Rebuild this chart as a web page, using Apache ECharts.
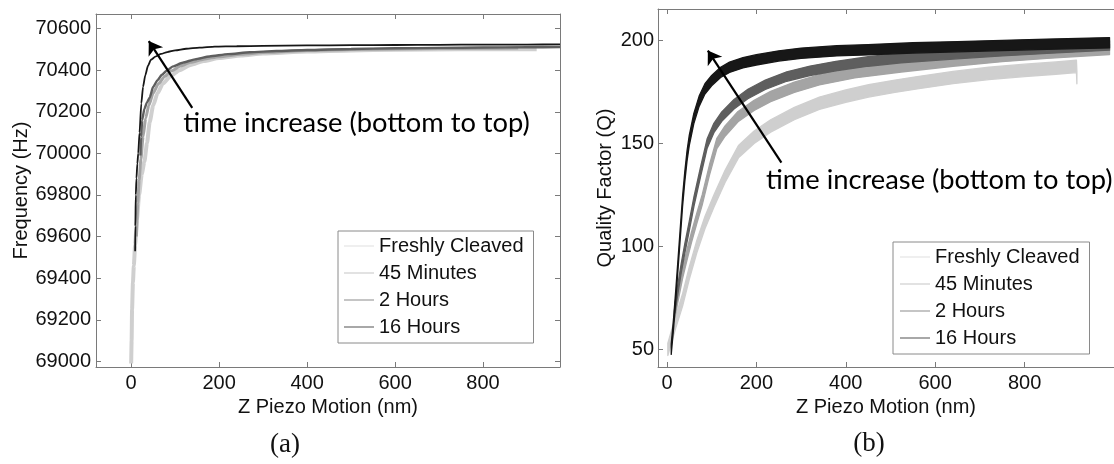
<!DOCTYPE html>
<html>
<head>
<meta charset="utf-8">
<script src="https://cdn.jsdelivr.net/npm/echarts@6/dist/echarts.min.js"></script>
<style>
  html, body { margin: 0; padding: 0; background: #fff; }
  #chart { width: 1114px; height: 464px; }
</style>
</head>
<body>
<div id="chart"></div>
<script>
// ---------- tick values ----------
const X_TICKS = [0, 200, 400, 600, 800];
const FREQ_TICKS = [69000, 69200, 69400, 69600, 69800, 70000, 70200, 70400, 70600];
const Q_TICKS = [50, 100, 150, 200];
const SERIES_NAMES = ['Freshly Cleaved', '45 Minutes', '2 Hours', '16 Hours'];

// ---------- (a) resonance frequency (Hz) vs Z piezo motion (nm) ----------
const freqFreshX = [0, 1, 2, 4, 6, 9, 13, 18, 24, 30, 36, 42, 50, 60, 72, 90, 110, 135, 165, 200, 250, 300, 400, 500, 600, 750, 922];
const freqFreshY = [68990, 69100, 69250, 69380, 69460, 69560, 69680, 69800, 69900, 69960, 70050, 70150, 70230, 70290, 70335, 70372, 70400, 70425, 70444, 70458, 70471, 70480, 70490, 70495, 70498, 70500, 70500];

const freq45mX = [12, 15, 18, 22, 27, 33, 40, 50, 62, 76, 92, 112, 135, 165, 200, 250, 310, 400, 500, 600, 700, 800, 880];
const freq45mY = [69600, 69760, 69870, 69970, 70080, 70170, 70230, 70290, 70335, 70370, 70397, 70420, 70438, 70453, 70465, 70477, 70486, 70494, 70499, 70502, 70504, 70505, 70506];

const freq2hX = [21, 22.5, 25, 30, 36, 42, 50, 60, 70, 80, 95, 117, 145, 178, 220, 270, 330, 400, 500, 600, 700, 800, 900, 975];
const freq2hY = [69990, 70080, 70160, 70215, 70245, 70268, 70320, 70352, 70378, 70396, 70418, 70436, 70452, 70466, 70477, 70486, 70492, 70497, 70502, 70505, 70507, 70509, 70510, 70511];

const freq16hX = [9, 9.5, 10.5, 12, 14, 16, 19, 23, 27, 32, 38, 45, 55, 68, 82, 100, 125, 155, 190, 240, 300, 400, 500, 600, 700, 800, 900, 975];
const freq16hY = [69530, 69650, 69800, 69880, 69950, 70000, 70100, 70240, 70320, 70375, 70420, 70450, 70465, 70478, 70487, 70495, 70503, 70508, 70513, 70515, 70517, 70519, 70520, 70521, 70522, 70523, 70523, 70524];

// ---------- (b) quality factor vs Z piezo motion (nm) ----------
// centre of each noisy trace and its half-spread (Q units)
const qFreshX = [2, 10, 20, 35, 50, 67, 85, 105, 130, 160, 195, 232, 285, 341, 400, 451, 510, 560, 640, 720, 800, 870, 916, 917];
const qFreshY = [50, 56, 63.5, 74, 87, 100, 111.5, 122, 134, 146, 153, 158.5, 164.5, 169.5, 173, 175.5, 177.8, 179.5, 182, 184, 185.5, 186.6, 187.4, 182];
const qFreshSpread = 3;

const q45mX = [16, 25, 35, 45, 55, 66, 78.8, 95, 111.7, 130, 159, 195, 232, 285, 341, 420, 524, 640, 750, 850, 990];
const q45mY = [66, 76, 87, 96, 104.5, 113, 122.5, 137, 150, 156, 163, 168.5, 172.8, 177.3, 180.9, 184.3, 187.2, 190, 192.2, 193.8, 195.7];
const q45mSpread = 2.5;

const q2hX = [18, 25, 32, 40, 50, 60.6, 75, 90, 105, 122.6, 150, 181, 220, 268, 320, 378, 450, 524, 640, 750, 850, 990];
const q2hY = [70, 80, 89.5, 99, 110, 122, 136, 150, 157.5, 163, 169, 174, 178.5, 182.5, 185.3, 187.6, 189.8, 191.5, 193.3, 194.8, 196, 197.6];
const q2hSpread = 2.3;

const q16hX = [9.6, 15, 20, 25, 30, 35, 40, 45, 50, 60, 72, 85, 100, 120, 140, 170, 200, 250, 300, 380, 450, 550, 650, 750, 850, 990];
const q16hY = [50, 63, 77, 92, 107, 122, 134, 144, 151.5, 162, 170.5, 176.5, 180.5, 184.5, 187, 189.2, 190.6, 192.5, 193.8, 195, 195.5, 196.4, 197, 197.6, 198.2, 198.9];
const q16hSpread = 2.5;

// ---------- annotation anchors (data coordinates) ----------
const annotA = { from: [138.8, 70219], to: [40, 70540], text: [117.4, 70147] };
const annotB = { from: [256, 140.7], to: [91.5, 195.1], text: [220.4, 132.3] };
const ANNOT_TEXT = 'time increase (bottom to top)';

// ---------- styling ----------
const FONT = "'Liberation Sans', Arial, Helvetica, sans-serif";
const AXIS_COLOR = '#7a7a7a';
const TEXT_COLOR = '#111';
const LINE_COLORS = ['#cfcfcf', '#a4a4a4', '#5e5e5e', '#171717'];
const LINE_WIDTHS = [4, 3, 2.4, 1.8];
const LEGEND_COLORS = ['#dedede', '#c4c4c4', '#8a8a8a', '#505050'];

const zip = (xs, ys) => xs.map((x, i) => [x, ys[i]]);

function axis(gridIndex, position, min, max, ticks, labelled, name, nameGap, margin, hideTicks) {
  return {
    type: 'value', gridIndex, position, min, max,
    name: name || '', nameLocation: 'middle', nameGap: nameGap || 0,
    nameTextStyle: { fontFamily: FONT, fontSize: 20, color: TEXT_COLOR },
    axisLine: { show: true, onZero: false, lineStyle: { color: AXIS_COLOR, width: 1 } },
    axisTick: { show: !hideTicks, inside: true, length: 5, customValues: ticks, lineStyle: { color: AXIS_COLOR } },
    axisLabel: {
      show: labelled, customValues: ticks, margin: margin || 6,
      fontFamily: FONT, fontSize: 20, color: TEXT_COLOR,
      formatter: v => String(v)
    },
    splitLine: { show: false }
  };
}

const freqSeries = [
  [freqFreshX, freqFreshY], [freq45mX, freq45mY], [freq2hX, freq2hY], [freq16hX, freq16hY]
].map(([xs, ys], i) => ({
  type: 'line', name: SERIES_NAMES[i], xAxisIndex: 0, yAxisIndex: 0,
  data: zip(xs, ys), symbol: 'none', showSymbol: false,
  smooth: 0.2, smoothMonotone: 'x',
  lineStyle: { color: LINE_COLORS[i], width: LINE_WIDTHS[i] },
  itemStyle: { color: LINE_COLORS[i] },
  silent: true, animation: false
}));

// noisy quality-factor traces drawn as bands between centre +/- spread
const qSeries = [
  [qFreshX, qFreshY, qFreshSpread], [q45mX, q45mY, q45mSpread],
  [q2hX, q2hY, q2hSpread], [q16hX, q16hY, q16hSpread]
].map(([xs, ys, spread], i) => ({
  type: 'custom', name: SERIES_NAMES[i], xAxisIndex: 2, yAxisIndex: 2,
  data: [[xs[0], ys[0]]],
  itemStyle: { color: LINE_COLORS[i] },
  renderItem(params, api) {
    const upper = xs.map((x, k) => api.coord([x, ys[k] + spread]));
    const lower = xs.map((x, k) => api.coord([x, ys[k] - spread])).reverse();
    return {
      type: 'polygon',
      shape: { points: upper.concat(lower) },
      style: { fill: LINE_COLORS[i], stroke: LINE_COLORS[i], lineWidth: 1.3, lineJoin: 'round' }
    };
  },
  silent: true, animation: false
}));

function annotation(xAxisIndex, yAxisIndex, a) {
  return {
    type: 'line', name: 'annotation', xAxisIndex, yAxisIndex, data: [],
    silent: true, animation: false,
    markLine: {
      silent: true, animation: false,
      symbol: ['none', 'arrow'], symbolSize: 13,
      lineStyle: { color: '#000', width: 2.2, type: 'solid' },
      label: { show: false },
      data: [[{ coord: a.from }, { coord: a.to }]]
    },
    markPoint: {
      silent: true, animation: false,
      symbol: 'circle', symbolSize: 1, itemStyle: { color: 'rgba(0,0,0,0)' },
      label: {
        show: true, position: 'right', distance: 0, formatter: ANNOT_TEXT,
        fontFamily: 'Lato, sans-serif', fontSize: 27.3, color: '#000'
      },
      data: [{ coord: a.text }]
    }
  };
}

function legend(left, top, padding) {
  return {
    left, top, orient: 'vertical', icon: 'rect',
    itemWidth: 30, itemHeight: 1, itemGap: 7, padding,
    backgroundColor: '#fff', borderColor: '#8a8a8a', borderWidth: 1, borderRadius: 0,
    selectedMode: false,
    textStyle: { fontFamily: FONT, fontSize: 20, color: TEXT_COLOR, lineHeight: 20 },
    data: SERIES_NAMES.map((n, i) => ({ name: n, itemStyle: { color: LEGEND_COLORS[i], borderWidth: 0 } })),
    z: 10
  };
}

const chart = echarts.init(document.getElementById('chart'), null, { renderer: 'canvas' });
chart.setOption({
  animation: false,
  backgroundColor: '#fff',
  grid: [
    { left: 96, top: 14, width: 464, height: 353 },
    { left: 658, top: 9, width: 465, height: 358 }
  ],
  xAxis: [
    axis(0, 'bottom', -80, 975, X_TICKS, true, 'Z Piezo Motion (nm)', 27),
    axis(0, 'top', -80, 975, X_TICKS, false),
    axis(1, 'bottom', -20, 1000, X_TICKS, true, 'Z Piezo Motion (nm)', 27),
    axis(1, 'top', -20, 1000, X_TICKS, false)
  ],
  yAxis: [
    axis(0, 'left', 68973, 70670, FREQ_TICKS, true, 'Frequency (Hz)', 64, 5),
    axis(0, 'right', 68973, 70670, FREQ_TICKS, false),
    axis(1, 'left', 41.4, 215.3, Q_TICKS, true, 'Quality Factor (Q)', 43, 4),
    axis(1, 'right', 41.4, 215.3, Q_TICKS, false, '', 0, 0, true)
  ],
  legend: [
    legend(338, 231, [5, 10, 6, 6]),
    legend(893, 242, [5, 10, 6, 7])
  ],
  // band series first so both legends take their thin sample icons
  series: [
    ...qSeries,
    annotation(2, 2, annotB),
    ...freqSeries,
    annotation(0, 0, annotA)
  ],
  graphic: [
    { type: 'text', x: 285, y: 445, style: { text: '(a)', font: "27px 'Liberation Serif', serif", fill: '#111', textAlign: 'center', textVerticalAlign: 'middle' } },
    { type: 'text', x: 869, y: 444, style: { text: '(b)', font: "27px 'Liberation Serif', serif", fill: '#111', textAlign: 'center', textVerticalAlign: 'middle' } }
  ]
});
</script>
</body>
</html>
